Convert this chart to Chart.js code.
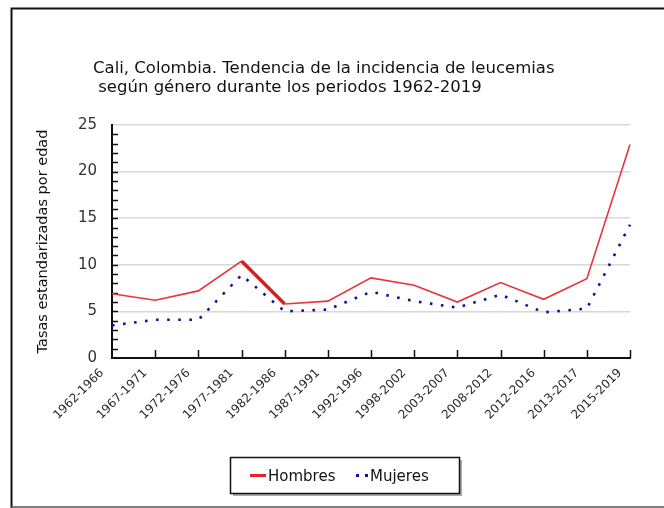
<!DOCTYPE html>
<html>
<head>
<meta charset="utf-8">
<script src="https://cdn.jsdelivr.net/npm/chart.js@4"></script>
<style>
  html, body { margin: 0; padding: 0; background: #fff; }
  #wrap { width: 664px; height: 508px; position: relative; }
</style>
</head>
<body>
<div id="wrap"><canvas id="c" width="664" height="508"></canvas></div>
<script>
const periods = ["1962-1966","1967-1971","1972-1976","1977-1981","1982-1986","1987-1991","1992-1996","1998-2002","2003-2007","2008-2012","2012-2016","2013-2017","2015-2019"];
const hombres = [6.9, 6.2, 7.2, 10.4, 5.8, 6.1, 8.6, 7.8, 6.0, 8.1, 6.3, 8.5, 22.9];
const mujeres = [3.5, 4.1, 4.1, 8.9, 5.0, 5.2, 7.1, 6.1, 5.4, 6.8, 4.9, 5.3, 14.3];
const yTicks = [0, 5, 10, 15, 20, 25];
const titleLines = ["Cali, Colombia. Tendencia de la incidencia de leucemias", " según género durante los periodos 1962-2019"];
const yTitle = "Tasas estandarizadas por edad";
const seriesNames = ["Hombres", "Mujeres"];

const decor = {
  id: 'decor',
  beforeDraw(chart) {
    const ctx = chart.ctx;
    ctx.save();
    ctx.fillStyle = '#fff';
    ctx.fillRect(0, 0, chart.width, chart.height);
    // frame
    ctx.strokeStyle = '#111';
    ctx.lineWidth = 2;
    ctx.beginPath();
    ctx.moveTo(11.5, 508); ctx.lineTo(11.5, 8.5); ctx.lineTo(664, 8.5);
    ctx.stroke();
    ctx.strokeStyle = '#555';
    ctx.lineWidth = 1.5;
    ctx.beginPath();
    ctx.moveTo(11, 507); ctx.lineTo(664, 507);
    ctx.stroke();
    // title
    ctx.fillStyle = '#111';
    ctx.font = '16.5px "DejaVu Sans", Verdana, sans-serif';
    ctx.textBaseline = 'alphabetic';
    ctx.textAlign = 'left';
    ctx.fillText(titleLines[0], 93, 73);
    ctx.fillText(titleLines[1], 93, 92);
    ctx.restore();
  },
  beforeDatasetsDraw(chart) {
    const ctx = chart.ctx;
    const x = chart.scales.x, y = chart.scales.y;
    const area = chart.chartArea;
    ctx.save();
    ctx.strokeStyle = '#111';
    ctx.lineWidth = 1.5;
    ctx.beginPath();
    for (let i = 1; i < periods.length; i++) {
      const px = Math.round(x.getPixelForValue(i)) + 0.5;
      ctx.moveTo(px, area.bottom); ctx.lineTo(px, area.bottom - 8);
    }
    for (let v = 1; v < 25; v++) {
      const py = Math.round(y.getPixelForValue(v)) + 0.5;
      ctx.moveTo(area.left, py); ctx.lineTo(area.left + 6, py);
    }
    ctx.stroke();
    ctx.restore();
  },
  afterDraw(chart) {
    const ctx = chart.ctx;
    ctx.save();
    // legend box
    const bx = 230, by = 457, bw = 229, bh = 36;
    ctx.fillStyle = '#aaa';
    ctx.fillRect(bx + 3, by + 3, bw, bh);
    ctx.fillStyle = '#fff';
    ctx.fillRect(bx, by, bw, bh);
    ctx.strokeStyle = '#111';
    ctx.lineWidth = 1.5;
    ctx.strokeRect(bx + 0.5, by + 0.5, bw, bh);
    ctx.strokeStyle = '#e0262e';
    ctx.lineWidth = 3;
    ctx.beginPath(); ctx.moveTo(250, 475.5); ctx.lineTo(266, 475.5); ctx.stroke();
    ctx.fillStyle = '#10109a';
    ctx.fillRect(356, 474, 3, 3);
    ctx.fillRect(365, 474, 3, 3);
    ctx.fillStyle = '#111';
    ctx.font = '15px "DejaVu Sans", sans-serif';
    ctx.textBaseline = 'alphabetic';
    ctx.fillText(seriesNames[0], 268, 481);
    ctx.fillText(seriesNames[1], 370, 481);
    ctx.restore();
  }
};

new Chart(document.getElementById('c'), {
  type: 'line',
  data: {
    labels: periods,
    datasets: [
      {
        label: seriesNames[0],
        data: hombres,
        borderColor: '#e8343c',
        borderWidth: 1.6,
        pointRadius: 0,
        tension: 0,
        segment: {
          borderWidth: c => c.p0DataIndex === 3 ? 3.5 : 1.6,
          borderColor: c => c.p0DataIndex === 3 ? '#d42020' : '#e8343c'
        }
      },
      {
        label: seriesNames[1],
        data: mujeres,
        borderColor: '#10109a',
        borderWidth: 2.6,
        borderDash: [2.6, 8.5],
        pointRadius: 0,
        tension: 0
      }
    ]
  },
  options: {
    responsive: false,
    animation: false,
    devicePixelRatio: 1,
    layout: { padding: { left: 0, top: 125, right: 34, bottom: 0 } },
    plugins: { legend: { display: false }, title: { display: false }, tooltip: { enabled: false } },
    scales: {
      x: {
        offset: false,
        grid: { display: false },
        border: { display: true, color: '#111', width: 2 },
        ticks: {
          color: '#2a2a2a',
          font: { family: '"DejaVu Sans", sans-serif', size: 12 },
          minRotation: 45, maxRotation: 45,
          autoSkip: false,
          padding: 0,
          labelOffset: -10
        },
        afterFit: s => { s.height = 150; }
      },
      y: {
        min: 0, max: 25,
        afterBuildTicks: s => { s.ticks = yTicks.map(v => ({ value: v })); },
        grid: { color: '#d8d8d8', lineWidth: 1.5, drawTicks: false },
        border: { display: true, color: '#111', width: 2 },
        ticks: {
          color: '#333',
          font: { family: '"DejaVu Sans", sans-serif', size: 15 },
          padding: 15
        },
        title: {
          display: true,
          text: yTitle,
          color: '#111',
          font: { family: '"DejaVu Sans", sans-serif', size: 14.5 },
          padding: { top: 35, bottom: 0 }
        },
        afterFit: s => { s.width = 112; }
      }
    }
  },
  plugins: [decor]
});
</script>
</body>
</html>
